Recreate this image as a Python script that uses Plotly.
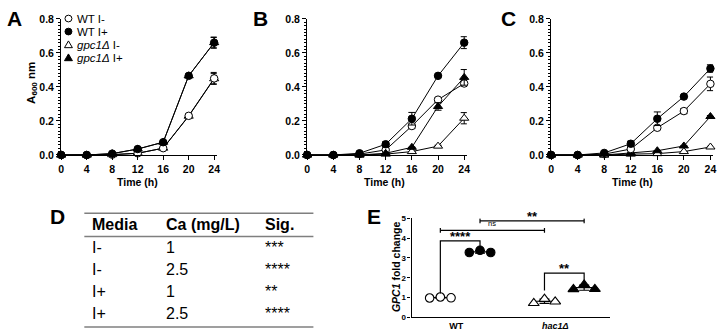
import numpy as np
import plotly.graph_objects as go

W, H = 724, 336

# ---------------- data ----------------
time_h = [0, 4, 8, 12, 16, 20, 24]
series_names = ["WT I-", "WT I+", "gpc1Δ I-", "gpc1Δ I+"]

# Panel A
a_wt_minus = [0.0, 0.0, 0.002, 0.010, 0.040, 0.230, 0.450]
a_wt_minus_err = [0, 0, 0, 0, 0, 0.008, 0.035]
a_wt_plus = [0.0, 0.0, 0.008, 0.035, 0.075, 0.465, 0.660]
a_wt_plus_err = [0, 0, 0, 0, 0, 0, 0.033]
a_gpc_minus = [0.0, 0.0, 0.002, 0.010, 0.040, 0.228, 0.448]
a_gpc_minus_err = [0, 0, 0, 0, 0, 0.006, 0.030]
a_gpc_plus = [0.0, 0.0, 0.008, 0.035, 0.075, 0.465, 0.660]
a_gpc_plus_err = [0, 0, 0, 0, 0, 0, 0.030]

# Panel B
b_wt_minus = [0.0, 0.0, 0.005, 0.030, 0.170, 0.325, 0.420]
b_wt_minus_err = [0, 0, 0, 0.008, 0.012, 0.010, 0.015]
b_wt_plus = [0.0, 0.0, 0.010, 0.063, 0.213, 0.465, 0.660]
b_wt_plus_err = [0, 0, 0, 0.014, 0.037, 0, 0.035]
b_gpc_minus = [0.0, 0.0, 0.0, 0.005, 0.020, 0.052, 0.216]
b_gpc_minus_err = [0, 0, 0, 0, 0, 0.005, 0.033]
b_gpc_plus = [0.0, 0.0, 0.0, 0.010, 0.045, 0.285, 0.456]
b_gpc_plus_err = [0, 0, 0, 0, 0, 0.022, 0.046]

# Panel C
c_wt_minus = [0.0, 0.0, 0.005, 0.035, 0.160, 0.258, 0.418]
c_wt_minus_err = [0, 0, 0, 0.008, 0.010, 0.015, 0.040]
c_wt_plus = [0.0, 0.0, 0.012, 0.066, 0.213, 0.343, 0.508]
c_wt_plus_err = [0, 0, 0, 0.015, 0.040, 0, 0.022]
c_gpc_minus = [0.0, 0.0, 0.0, 0.005, 0.008, 0.020, 0.047]
c_gpc_minus_err = [0, 0, 0, 0, 0, 0, 0.004]
c_gpc_plus = [0.0, 0.0, 0.0, 0.012, 0.025, 0.053, 0.226]
c_gpc_plus_err = [0, 0, 0, 0, 0, 0, 0.006]

x_ticks = [0, 4, 8, 12, 16, 20, 24]
y_ticks = [0.0, 0.2, 0.4, 0.6, 0.8]

# Panel D table
table_header = ["Media", "Ca (mg/L)", "Sig."]
table_media = ["I-", "I-", "I+", "I+"]
table_ca = ["1", "2.5", "1", "2.5"]
table_sig = ["***", "****", "**", "****"]

# Panel E
e_groups = ["WT", "hac1Δ"]
e_wt_minus = [0.98, 1.03, 0.99]
e_wt_plus = [3.27, 3.38, 3.27]
e_hac_minus = [0.72, 0.93, 0.80]
e_hac_plus = [1.42, 1.65, 1.43]
e_sig_within = ["****", "**"]
e_sig_between = ["ns", "**"]

FONT = "Liberation Sans"


def fx(px):
    return px / W


def fy(py):
    return 1 - py / H


fig = go.Figure()

# ---------------- panels A-C ----------------
panels = [
    ("x", "y", [(a_gpc_minus, a_gpc_minus_err, "triangle-up", False),
                (a_gpc_plus, a_gpc_plus_err, "triangle-up", True),
                (a_wt_minus, a_wt_minus_err, "circle", False),
                (a_wt_plus, a_wt_plus_err, "circle", True)]),
    ("x2", "y2", [(b_gpc_minus, b_gpc_minus_err, "triangle-up", False),
                  (b_wt_minus, b_wt_minus_err, "circle", False),
                  (b_wt_plus, b_wt_plus_err, "circle", True),
                  (b_gpc_plus, b_gpc_plus_err, "triangle-up", True)]),
    ("x3", "y3", [(c_gpc_minus, c_gpc_minus_err, "triangle-up", False),
                  (c_gpc_plus, c_gpc_plus_err, "triangle-up", True),
                  (c_wt_minus, c_wt_minus_err, "circle", False),
                  (c_wt_plus, c_wt_plus_err, "circle", True)]),
]
for xa, ya, sers in panels:
    for vals, err, sym, filled in sers:
        fig.add_trace(go.Scatter(
            x=time_h, y=vals, xaxis=xa, yaxis=ya, mode="lines+markers",
            line=dict(color="black", width=1),
            marker=dict(symbol=sym, size=7.5 if sym == "circle" else 8,
                        color="black" if filled else "white",
                        line=dict(color="black", width=1)),
            error_y=dict(type="data", array=err, visible=True, color="black",
                         thickness=1, width=3.5),
            cliponaxis=False, showlegend=False, hoverinfo="skip"))

# ---------------- panel E ----------------
e_sets = [(e_wt_minus, "circle", False), (e_wt_plus, "circle", True),
          (e_hac_minus, "triangle-up", False), (e_hac_plus, "triangle-up", True)]
centers = [0.0, 1.0, 2.625, 3.625]
for (vals, sym, filled), c in zip(e_sets, centers):
    m = float(np.mean(vals))
    sd = float(np.std(vals, ddof=1))
    sp = 0.27
    fig.add_trace(go.Scatter(
        x=[c - 0.32, c + 0.32], y=[m, m], xaxis="x4", yaxis="y4", mode="lines",
        line=dict(color="black", width=1.2), showlegend=False, hoverinfo="skip"))
    fig.add_trace(go.Scatter(
        x=[c], y=[m], xaxis="x4", yaxis="y4", mode="markers",
        marker=dict(size=1, color="black"),
        error_y=dict(type="data", array=[sd], visible=True, color="black",
                     thickness=1.2, width=5),
        showlegend=False, hoverinfo="skip"))
    fig.add_trace(go.Scatter(
        x=[c - sp, c, c + sp], y=vals, xaxis="x4", yaxis="y4", mode="markers",
        marker=dict(symbol=sym, size=8.5 if sym == "circle" else 9.5,
                    color="black" if filled else "white",
                    line=dict(color="black", width=1.1)),
        cliponaxis=False, showlegend=False, hoverinfo="skip"))

shapes = []
annotations = []

br_col = dict(color="black", width=1.2)
# within WT
top1 = 3.86
shapes.append(dict(type="path", xref="x4", yref="y4", line=br_col,
                   path=f"M {centers[0]},{max(e_wt_minus)+0.18} L {centers[0]},{top1} "
                        f"L {centers[1]},{top1} L {centers[1]},{max(e_wt_plus)+0.16}"))
annotations.append(dict(x=(centers[0]+centers[1])/2, y=top1, xref="x4", yref="y4",
                        text="<b>" + e_sig_within[0] + "</b>", showarrow=False,
                        yanchor="bottom", yshift=-5,
                        font=dict(family=FONT, size=13, color="black")))
# within hac1
top2 = 2.23
shapes.append(dict(type="path", xref="x4", yref="y4", line=br_col,
                   path=f"M {centers[2]},{max(e_hac_minus)+0.43} L {centers[2]},{top2} "
                        f"L {centers[3]},{top2} L {centers[3]},{max(e_hac_plus)+0.1}"))
annotations.append(dict(x=(centers[2]+centers[3])/2, y=top2, xref="x4", yref="y4",
                        text="<b>" + e_sig_within[1] + "</b>", showarrow=False,
                        yanchor="bottom", yshift=-5,
                        font=dict(family=FONT, size=13, color="black")))
# between: ns (I-), ** (I+)
for (a, b, yy, lab, fs) in [(centers[0], centers[2], 4.38, e_sig_between[0], 7.5),
                            (centers[1], centers[3], 4.86, e_sig_between[1], 13)]:
    shapes.append(dict(type="line", xref="x4", yref="y4", x0=a, x1=b, y0=yy, y1=yy, line=br_col))
    for xx in (a, b):
        shapes.append(dict(type="line", xref="x4", yref="y4", x0=xx, x1=xx,
                           y0=yy - 0.12, y1=yy + 0.12, line=br_col))
    txt = "<b>" + lab + "</b>" if lab != "ns" else lab
    annotations.append(dict(x=(a + b) / 2, y=yy, xref="x4", yref="y4", text=txt,
                            showarrow=False, yanchor="bottom",
                            yshift=-5 if lab != "ns" else 0,
                            font=dict(family=FONT, size=fs, color="#000000")))

# ---------------- legend (panel A) ----------------
leg_rows = [13, 26.5, 40, 53.5]
leg_x = 66
for name, row, (sym, filled) in zip(series_names, leg_rows,
                                    [("circle", False), ("circle", True),
                                     ("tri", False), ("tri", True)]):
    fill = "black" if filled else "white"
    if sym == "circle":
        shapes.append(dict(type="circle", xref="paper", yref="paper",
                           x0=fx(leg_x - 3.5), x1=fx(leg_x + 3.5),
                           y0=fy(row + 3.5), y1=fy(row - 3.5),
                           fillcolor=fill, line=dict(color="black", width=1)))
    else:
        p = (f"M {fx(leg_x-4)},{fy(row+3.2)} L {fx(leg_x+4)},{fy(row+3.2)} "
             f"L {fx(leg_x)},{fy(row-3.8)} Z")
        shapes.append(dict(type="path", xref="paper", yref="paper", path=p,
                           fillcolor=fill, line=dict(color="black", width=1)))
    txt = name
    if name.startswith("gpc1Δ"):
        txt = "<i>gpc1Δ</i>" + name[len("gpc1Δ"):]
    annotations.append(dict(x=fx(73), y=fy(row), xref="paper", yref="paper",
                            text=txt, showarrow=False, xanchor="left",
                            yanchor="middle",
                            font=dict(family=FONT, size=11.5, color="black")))

# ---------------- panel letters ----------------
for lab, x0, yc in [("A", 2, 13), ("B", 250, 13), ("C", 500, 13),
                    ("D", 45, 218), ("E", 365, 218)]:
    annotations.append(dict(x=fx(x0), y=fy(yc), xref="paper", yref="paper",
                            text="<b>" + lab + "</b>", showarrow=False,
                            xanchor="left", yanchor="middle",
                            font=dict(family=FONT, size=21, color="black")))

# ---------------- axis titles ----------------
for xc in [136, 385, 635]:
    annotations.append(dict(x=fx(xc), y=fy(183), xref="paper", yref="paper",
                            text="<b>Time (h)</b>", showarrow=False,
                            xanchor="center", yanchor="middle",
                            font=dict(family=FONT, size=10.5, color="black")))
annotations.append(dict(x=fx(29), y=fy(80), xref="paper", yref="paper",
                        text="<b>A<sub>600</sub> nm</b>", showarrow=False,
                        textangle=-90, xanchor="center", yanchor="middle",
                        font=dict(family=FONT, size=11.5, color="black")))
annotations.append(dict(x=fx(397), y=fy(270), xref="paper", yref="paper",
                        text="<b><i>GPC1</i> fold change</b>", showarrow=False,
                        textangle=-90, xanchor="center", yanchor="middle",
                        font=dict(family=FONT, size=10.5, color="black")))

# ---------------- panel D table ----------------
tbl_line = dict(color="#7f7f7f", width=1.5)
for yy in [215, 239, 333]:
    shapes.append(dict(type="line", xref="paper", yref="paper",
                       x0=fx(82), x1=fx(313), y0=fy(yy), y1=fy(yy), line=tbl_line))
col_x = [88, 162, 262]
for txt, cx in zip(table_header, col_x):
    annotations.append(dict(x=fx(cx), y=fy(227), xref="paper", yref="paper",
                            text="<b>" + txt + "</b>", showarrow=False,
                            xanchor="left", yanchor="middle",
                            font=dict(family=FONT, size=16, color="black")))
row_y = [250, 273, 296, 319]
for i, ry in enumerate(row_y):
    for txt, cx in zip([table_media[i], table_ca[i], table_sig[i]], col_x):
        annotations.append(dict(x=fx(cx), y=fy(ry), xref="paper", yref="paper",
                                text=txt, showarrow=False, xanchor="left",
                                yanchor="middle",
                                font=dict(family=FONT, size=16, color="black")))

# ---------------- axes ----------------
ydom = [fy(154.5), fy(13.3)]
tickfont = dict(family=FONT, size=10.5, color="black")
axis_common = dict(showline=True, linecolor="black", linewidth=1.3, ticks="outside",
                   ticklen=4, tickwidth=1.3, tickcolor="black", showgrid=False,
                   zeroline=False, tickfont=tickfont)
layout = dict(width=W, height=H, autosize=False,
              margin=dict(l=0, r=0, t=0, b=0),
              paper_bgcolor="white", plot_bgcolor="white",
              shapes=shapes, annotations=annotations, showlegend=False)
xdoms = [(58.7, 215.5), (306.7, 467.7), (552.7, 716.0)]
for i, (xl, xr) in enumerate(xdoms):
    sfx = "" if i == 0 else str(i + 1)
    layout["xaxis" + sfx] = dict(axis_common, domain=[fx(xl), fx(xr)],
                                 range=[0, 24.4], tickvals=x_ticks,
                                 ticktext=[f"<b>{t}</b>" for t in x_ticks],
                                 anchor="y" + sfx)
    layout["yaxis" + sfx] = dict(axis_common, domain=ydom, range=[0, 0.8],
                                 tickvals=y_ticks,
                                 ticktext=[f"<b>{t:.1f}</b>" for t in y_ticks],
                                 anchor="x" + sfx,
                                 minor=dict(dtick=0.02, ticklen=2, tickwidth=1,
                                            tickcolor="black", ticks="outside",
                                            showgrid=False))
e_yt = [0, 1, 2, 3, 4, 5]
layout["xaxis4"] = dict(axis_common, domain=[fx(412), fx(612)], range=[-0.725, 4.275],
                        tickvals=[0.4, 2.9],
                        ticktext=["<b>WT</b>", "<b><i>hac1Δ</i></b>"], ticks="", anchor="y4",
                        tickfont=dict(family=FONT, size=9, color="black"))
layout["yaxis4"] = dict(axis_common, domain=[fy(323), fy(220)], range=[0, 5],
                        tickvals=e_yt, ticktext=[f"<b>{t}</b>" for t in e_yt],
                        ticklen=3, anchor="x4",
                        tickfont=dict(family=FONT, size=8, color="black"))

fig.update_layout(**layout)
fig.write_html("out.html", config={"displayModeBar": False},
               post_script="document.body.style.margin='0';document.body.style.overflow='hidden';")
